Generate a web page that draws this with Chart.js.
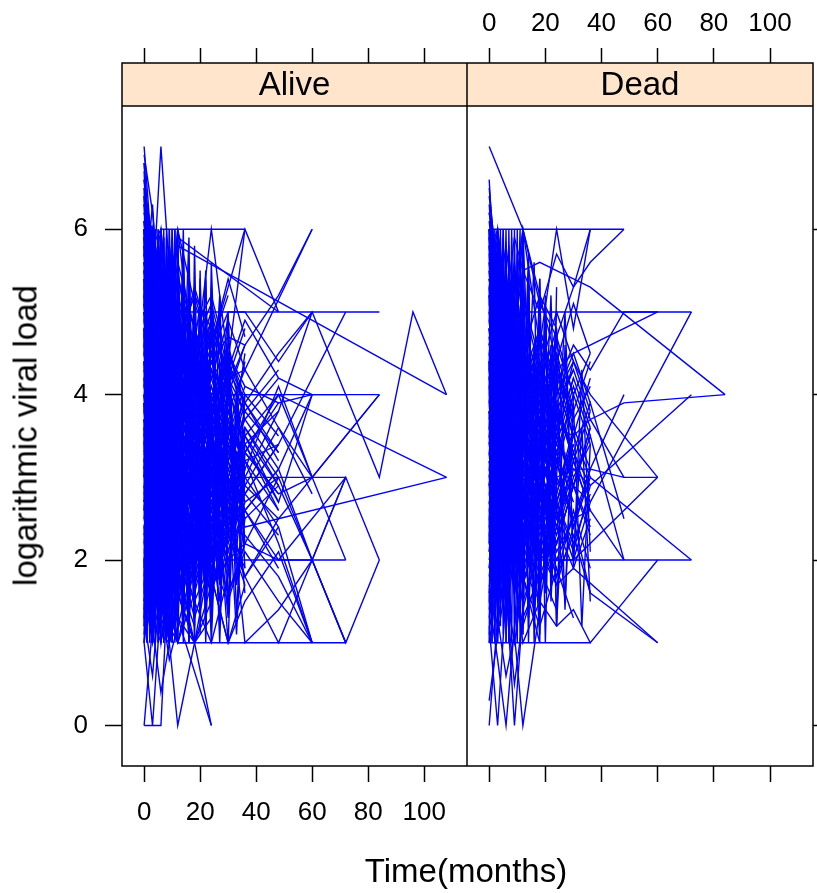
<!DOCTYPE html>
<html>
<head>
<meta charset="utf-8">
<script src="https://cdn.jsdelivr.net/npm/chart.js@4.4.0/dist/chart.umd.min.js"></script>
<style>
  html, body { margin: 0; padding: 0; background: #fff; }
  body { width: 817px; height: 893px; position: relative; overflow: hidden; font-family: "Liberation Sans", Arial, sans-serif; color: #000; }
  canvas { position: absolute; top: 0; }
  #alive { left: 0; }
  #dead { left: 467px; }
  .title { position: absolute; font-size: 33px; line-height: 33px; height: 33px; width: 400px; text-align: center; white-space: nowrap; }
  #xlab { left: 266px; top: 854px; }
  #ylab { left: -175px; top: 419px; transform: rotate(-90deg); }
</style>
</head>
<body>
<canvas id="alive" width="467" height="893"></canvas>
<canvas id="dead" width="350" height="893"></canvas>
<div class="title" id="xlab">Time(months)</div>
<div class="title" id="ylab">logarithmic viral load</div>
<script>
// regular visit schedule (months) - rows in aliveLoads / deadLoads are aligned to it, _ = no measurement
const visitMonths = [0, 3, 6, 9, 12, 18, 24, 30, 36, 48, 60, 72, 84, 96, 108];
// monthly-ish schedule for the frequently measured subjects
const denseMonths = [0, 1, 2, 3, 4, 5, 6, 7, 8, 9, 10, 11, 12, 14, 16, 18, 20, 22, 24, 27, 30, 33, 36];
const _ = null;

const aliveLoads = [
  [7, 5.6, 4.1, 3.2, 2.5],
  [4.8, 5.2, 7, 5.5, 4.3, 3.1],
  [0, 0, 0, 2.1, 1.8, 1.2],
  [5.4, 4.0, 6, 6, 6, 6, 6, 6, 6],
  [5.8, 3.1, 2.4, 1.9, 1, 1, 1, 1, 1, 1, 1],
  [4.6, 3.8, 4.2, 3.5, 5, 5, 5, 5, 5, 5, 5, 5, 5],
  [5.3, 4.9, 4.4, 3.7, 3.1, 2.8, 4, 4, 4, 4, 4, 4, 4],
  [6.1, 5.0, 3.9, 3.3, 2.6, 2.2, 2.9, 3.4, 3, 3, 3, 3],
  [3.9, 2.7, 2.2, 1.6, 2.4, 2, 2, 2, 2, 2, 2, 2],
  [4.4, 3.6, 2.9, 2.5, 3.1, 3.8, 4.2, 4.5, 4.1, 3.9, 4, 4, 3, 5, 4],
  [5.2, 6.3, 4.7, _, 5.8, _, _, _, _, _, _, _, _, _, 4],
  [6.6, 5.1, 4.9, _, 5.9, _, _, _, _, 5.0],
  [3.5, 4.2, 3.8, 4.4, 4.1, 4.6, 4.3, 4.0, 4, 4, _, _, _, _, 3],
  [2.8, 3.3, 2.1, 2.7, 1.9, 2.2, 2.5, 2.3, 2.4, _, _, _, _, _, 3],
  [4.1, 3.5, 2.8, 3.2, 3.9, 4.5, 4.0, 4.2, 4.3, _, 6],
  [5.6, 4.8, 3.4, 2.9, 3.5, 4.1, 4.4, 4.7, 4.6, 5.2, 6],
  [3.2, 2.6, 1.8, 2.3, 2.9, 2.4, 1.7, 2.0, 2.2, 2, 2, 3, 2],
  [4.9, 3.7, 2.5, 3.0, 2.1, 2.6, 3.3, 2.9, 2.7, 3, 2, 1, 2],
  [3.0, 2.2, 1.9, 2.5, 3.1, 2.7, 3.3, 3.6, 3.2, 3.4, _, 5],
  [3.7, 2.9, 3.4, 2.8, 2.3, 3.0, 2.6, 2.1, 2.9, 2.5, _, _, 4],
  [2.5, 1.8, 2.6, 3.1, 2.8, 3.5, 3.0, 2.7, 3.3, 2.8, 3, _, 4],
  [4.2, 3.1, 2.0, 1, 1.6, 2.3, 1.8, 1, 1.5, 2.1, 1],
  [5.5, 4.4, 3.6, 2.8, 2.2, 1.7, 2.5, 3.0, 1, 1.4, 2, 1],
  [3.4, 4.9, 5.2, 4.1, 6, 4.3, 6, 4.4, 6],
  [6, 5.3, 4.5, 5.0, 6, 5.1, 4.6, 5.3, 6, 5],
  [2.4, 1.5, 1.1, 1, 0, 1],
  [1.3, 0.6, 1.8, 2.2, 1.3, _, 0],
  [2.0, 1.4, 1.2, 1.5, 1.9, 1, 0],
  [0, 1.2, 0.4, 1, 2.6, 3.1],
  [1, 0, 1.5, 0.8, 1.2, 2],
  [5.9, 4.2, 3.1, 2.4, 1.8],
  [4.5, 5.1, 3.9, 2.7, 3.3, 2.1],
  [6.3, 5.7, 4.8, 3.6, 2.9, 2.2, 1.6],
  [3.1, 4.4, 5.2, 4.1, 3.0],
  [2.2, 3.5, 4.6, 5.3, 4.4, 3.8, 2.9],
  [5.0, 2.8, 1.9, 1, 1.4],
  [6, 4.7, 2.3, 1.5, 1, 1],
  [4.0, 3.2, 4.8, 3.5, 2.6, 3.4, 2.8, 2.1],
  [1.7, 2.9, 3.6, 2.4, 1.8, 2.5],
  [5.7, 6, 5.1, 4.3, 3.7, 4.6, 3.9],
  [3.6, 2.1, 1, 1.9, 2.7, 3.5, 2.3, 1.6, 2.2],
  [4.7, 5.9, 4.2, 3.1, 4.5, 3.3],
  [2.9, 1.6, 2.8, 3.9, 3.2],
  [6.8, 5.4, 4.0, 2.7],
  [5.1, 3.3, 2.6, 3.8, 4.9, 4.1, 3.5, 2.7, 3.6],
  [3.3, 4.5, 3.0, 2.0, 1.3, 1, 2.1],
  [1.2, 2.4, 1.5, 3.3, 2.5, 1.9],
  [4.3, 3.0, 5.5, 4.6, 3.9, 2.8, 3.4],
  [5.5, 4.1, 2.9, 3.5, 2.0, 1.5, 1, 1.8],
  [2.6, 3.8, 4.9, 3.4, 4.0, 4.8, 5.2, 4.4],
  [6.4, 4.6, 3.2, 2.1, 2.8],
  [3.8, 5.0, 4.3, 5.6, 4.7, 3.6, 2.9, 3.7, 2.8],
  [4.9, 3.4, 1.7, 1, 1.9, 2.6],
  [2.3, 1, 2.2, 1.4, 2.9, 3.6, 4.1],
  [5.3, 6, 5.4, 4.6, 5.5, 4.2],
  [3.0, 4.1, 2.5, 3.7, 2.4, 3.2, 2.0, 2.6],
  [6.1, 3.9, 2.7, 1.8, 1.2],
  [4.4, 2.3, 3.5, 4.7, 3.6, 2.4, 1.9, 2.5, 3.1],
  [1.8, 3.1, 4.2, 2.9, 1.6, 1, 1.3],
  [5.8, 4.9, 3.7, 4.5, 3.3, 4.0, 4.8],
  [3.4, 2.0, 1.4, 2.6, 3.7, 2.9, 3.5, 4.2, 3.8],
  [4.6, 5.8, 6, 4.9, 4.1, 3.4, 2.6],
  [2.7, 3.6, 2.4, 1.7, 2.3, 3.1, 2.7, 3.3],
  [5.2, 4.3, 5.0, 3.8, 2.7, 2.1],
  [6.5, 5.9, 4.4, 3.0, 3.6, 2.5],
  [3.9, 2.8, 3.3, 4.4, 5.1, 4.5, 3.9, 3.2, 4.0, 3.5],
  [2.1, 1.3, 1, 1.6, 2.2],
  [4.8, 3.9, 4.6, 2.9, 3.4, 2.8, 3.6, 2.4],
  [5.6, 5.0, 3.8, 2.6, 1.9, 2.7],
  [3.2, 4.7, 3.5, 4.2, 3.0, 2.3, 3.2, 2.9, 3.4, 2.6],
  [1.5, 2.6, 3.4, 4.0, 3.1, 3.8],
  [6.2, 5.5, 4.9, 5.6, 4.6, 3.9, 4.5],
  [4.1, 3.0, 2.1, 1.4, 1, 1.6, 2.4, 1.8],
  [3.5, 4.8, 5.7, 4.4, 3.5, 2.6, 3.0, 3.8],
  [5.4, 3.6, 2.5, 3.3, 4.1, 3.4, 2.7],
  [2.4, 3.2, 2.0, 2.9, 3.8, 4.3, 3.6, 4.1, 3.3, 3.9],
  [4.3, 5.4, 4.5, 3.3, 2.5, 3.1],
  [6.9, 6.2, 5.0, 3.8, 3.2],
  [3.7, 2.4, 3.9, 2.6, 1.8, 2.4, 1.6, 2.3, 1.7],
  [5.0, 4.2, 3.1, 4.3, 5.0, 4.0, 4.7],
  [2.8, 4.0, 3.7, 3.0, 2.2, 1.5, 2.0],
  [4.5, 3.3, 2.4, 2.0, 2.9, 3.7, 3.1, 3.9, 3.0],
  [5.9, 5.2, 4.3, 3.4, 2.4, 1.7],
  [3.3, 1.9, 2.7, 3.6, 4.6, 3.8, 4.3],
  [4.2, 5.6, 4.4, 3.2, 3.8, 2.9, 2.3, 2.8],
  [1, 1.9, 3.0, 2.3, 3.5, 2.7],
  [5.1, 4.0, 4.8, 5.5, 4.3, 3.5, 4.1, 3.4, 2.9],
  [6, 5.0, 3.5, 4.0, 3.0],
  [3.6, 2.7, 1.6, 2.4, 3.3, 2.5, 1.9, 2.7],
  [4.7, 3.5, 4.3, 3.1, 2.4, 3.3, 4.0, 3.2, 3.7, 4.2],
  [2.5, 3.4, 4.5, 3.7, 2.8, 2.2],
  [5.3, 4.5, 3.3, 2.3, 1.6, 1, 1.5],
  [4.0, 4.9, 3.6, 4.7, 5.4, 4.8, 3.9],
  [3.1, 2.3, 3.1, 1.9, 2.6, 3.2, 2.6, 3.5],
  [6.3, 4.4, 3.0, 2.6, 3.4, 2.8],
  [4.9, 5.3, 4.0, 3.3, 4.2, 3.6, 4.4, 3.8, 3.1],
  [2.0, 2.8, 1.7, 2.5, 1.9, 2.7, 3.4],
  [5.7, 4.6, 5.3, 4.2, 3.5, 4.4, 3.7],
  [3.8, 3.1, 2.2, 3.4, 2.7, 1.8, 2.5, 2.0, 2.6, 1.9],
  [4.4, 3.7, 4.9, 4.0, 4.7, 3.9, 3.2],
  [1.6, 1, 2.0, 2.8, 2.1, 2.9],
  [5.5, 5.9, 4.7, 3.9, 3.0, 3.8, 3.0, 2.4],
  [3.0, 3.9, 3.2, 2.2, 1.5, 2.3, 3.0],
  [4.6, 3.4, 2.6, 3.1, 3.9, 4.6, 3.8, 4.5, 4.0],
  [6.0, 5.1, 4.2, 3.1, 2.3],
  [2.9, 2.1, 3.3, 4.1, 3.3, 2.6, 3.2, 2.7],
  [4.1, 4.8, 3.8, 2.7, 3.5, 4.2, 3.4, 2.8, 3.5],
  [5.0, 3.8, 2.9, 2.1, 2.7, 2.0],
  [3.4, 4.3, 5.1, 4.4, 3.6, 4.3, 4.9, 4.1, 4.6],
  [4.2, 3.5, 2.7, 3.4, 2.6, 3.3, 2.8, 3.6, 3.0, 2.4, 1],
  [3.3, 2.6, 3.8, 2.9, 3.7, 2.8, 3.5, 2.4, 2.9, 3.6, 2.8],
  [5.1, 4.4, 3.6, 4.3, 3.5, 4.1, 3.7, 4.4, 3.9, 4.5, 5],
  [2.7, 3.4, 2.5, 1.8, 2.4, 1.7, 2.3, 1.6, 2.1, 1.5, 1, 1],
  [4.8, 4.1, 3.2, 2.8, 3.6, 2.9, 3.8, 3.1, 3.4, 2.7, 4],
  [3.6, 2.9, 4.0, 3.3, 4.2, 3.5, 2.9, 3.7, 3.1, 4.1, 3],
  [2.2, 1.7, 2.5, 2.1, 1.6, 2.4, 1.9, 2.6, 1.8, 1, 2, 1],
  [5.7, 5.0, 4.2, 3.7, 4.6, 5.2, 4.5, 5.0, 5, 4.4, 5, 4],
  [4.0, 3.2, 2.4, 3.0, 3.9, 3.1, 2.5, 3.2, 2.6, 2, _, 3],
  [3.1, 3.8, 2.9, 3.5, 2.8, 2.2, 3.0, 2.5, 3.3, 4, 3, 2],
  [2.3, 4.1, 5.6, 3.8, 2.9, 3.7, 4.5, 3.6, 2.8, 3.4],
  [5.6, 3.2, 4.5, 5.8, 4.1, 3.3, 2.6, 3.5, 4.4],
  [1, 2.2, 3.7, 5.1, 3.9, 4.6, 3.8, 2.9, 3.6],
  [6, 5.4, 6, 4.8, 3.6, 4.4, 3.5, 4.1],
  [3.5, 1.4, 2.8, 1, 2.5, 1.9, 2.8, 3.5, 2.7],
  [4.7, 6, 4.4, 5.2, 3.8, 2.9, 3.4, 4.3, 3.9, 3.2],
  [2.9, 4.5, 1.8, 3.6, 4.8, 3.5, 2.7, 2.2, 3.1],
  [5.2, 2.7, 3.9, 2.3, 3.4, 4.1, 4.9, 4.2, 4.8],
  [6.7, 4.3, 5.5, 3.4, 2.6, 3.2, 2.5],
  [3.8, 5.6, 3.1, 4.9, 3.7, 2.5, 3.1, 2.6, 3.3],
  [1.4, 3.0, 4.3, 2.6, 3.8, 3.0, 3.7, 4.5],
  [4.4, 2.5, 5.0, 3.1, 1.9, 2.7, 2.1, 2.9, 2.2, 3.0],
  [5.9, 5.5, 3.6, 4.8, 5.4, 4.6, 5.1, 4.3],
  [2.6, 1.2, 3.3, 4.4, 2.8, 2.1, 2.9, 3.7, 2.8],
  [4.1, 6, 5.1, 2.9, 3.6, 4.4, 3.7, 3.0, 3.8, 3.3],
  [3.2, 3.9, 1.3, 2.2, 3.3, 2.4, 1.8, 1, 1.7],
  [5.4, 3.3, 4.1, 5.3, 4.5, 5.3, 4.6, 5.4, 4.7],
  [6.1, 4.8, 2.8, 3.9, 2.9, 3.6, 4.3, 3.4],
  [2.1, 3.7, 4.7, 3.2, 4.3, 3.5, 2.8, 3.4, 2.5, 2.9],
  [4.8, 1.8, 2.4, 3.7, 2.6, 1.9, 2.6, 2.0, 2.7],
  [3.4, 5.2, 4.1, 5.7, 4.8, 3.9, 4.6, 5.2],
  [5.1, 2.9, 1.6, 2.6, 3.9, 3.1, 2.4, 3.2, 3.9, 3.3],
  [1.9, 4.6, 3.2, 1.8, 2.4, 3.2, 3.9, 3.2, 2.5],
  [4.5, 3.8, 5.9, 4.5, 3.1, 3.8, 3.1, 3.9],
  [6.6, 5.7, 3.9, 2.6, 3.3, 2.6, 3.4, 2.8, 3.5, 2.9],
  [3.7, 2.2, 4.0, 4.9, 3.8, 4.4, 5.0, 4.2],
  [2.4, 1.5, 2.3, 3.8, 2.7, 3.4, 2.6, 3.3, 2.9],
  [5.3, 5.6, 4.6, 3.3, 4.4, 3.3, 2.7, 3.3, 2.6, 3.1],
  [4.0, 2.6, 1.9, 2.9, 2.1, 1.3, 2.0, 1.5, 2.2],
  [3.0, 4.8, 5.4, 4.2, 5.2, 4.5, 3.8, 4.4, 3.7],
  [5.8, 4.0, 3.0, 1.7, 2.5, 3.0, 2.4, 3.1],
  [1.1, 2.7, 3.9, 4.6, 3.5, 2.7, 3.5, 2.8, 3.6, 3.0],
  [4.6, 5.5, 2.7, 3.4, 4.6, 3.8, 4.5, 3.6],
  [3.9, 3.0, 4.4, 2.4, 1.7, 2.3, 1.6, 2.4, 1.9],
  [6.2, 6, 5.3, 4.0, 4.9, 4.1, 3.4, 4.0],
  [2.8, 2.0, 3.5, 2.9, 3.9, 3.1, 3.8, 3.0, 3.5, 2.7],
  [5.0, 4.7, 2.0, 1.2, 1, 1.9, 2.8, 2.2],
  [4.3, 3.6, 4.9, 5.8, 4.9, 4.2, 4.8, 4.0, 4.6],
  [3.3, 5.0, 3.8, 2.5, 3.2, 2.5, 3.4, 2.7],
  [1.7, 1.1, 2.9, 2.0, 2.9, 3.7, 3.0, 3.8, 3.2, 2.6],
  [5.5, 3.9, 3.1, 4.2, 3.4, 2.8, 3.5, 2.9],
  [4.9, 5.8, 4.8, 3.6, 2.8, 3.6, 4.2, 3.5, 4.1],
  [2.2, 3.2, 2.1, 3.0, 4.0, 3.3, 2.6, 3.1, 2.5],
  [6.4, 5.1, 4.6, 5.3, 4.2, 3.5, 4.1, 3.4],
  [3.6, 4.4, 2.6, 1.9, 2.6, 2.0, 2.7, 2.1, 2.8, 2.3],
  [4.2, 2.1, 3.4, 4.3, 3.1, 3.9, 3.2, 4.0],
  [5.7, 5.3, 4.2, 4.9, 5.6, 4.8, 4.2, 4.9, 4.3],
  [2.5, 3.9, 4.8, 3.3, 2.4, 1.8, 2.5, 1.9],
  [3.9, 1.7, 2.2, 2.8, 3.5, 2.7, 3.4, 2.6, 3.3, 2.8],
  [5.2, 4.5, 5.7, 3.9, 4.7, 4.0, 3.3, 3.9],
  [1.3, 2.1, 1.4, 2.7, 1.9, 2.6, 3.3, 2.5, 3.0],
  [4.7, 4.0, 3.1, 2.2, 3.0, 3.8, 3.0, 3.7],
  [6.0, 4.6, 5.2, 4.4, 3.5, 4.3, 3.6, 4.2, 3.5, 4.0],
  [3.1, 5.3, 4.5, 3.5, 4.1, 3.3, 2.6, 3.3],
  [4.4, 3.1, 2.3, 3.3, 2.4, 3.1, 2.3, 3.0, 2.4],
  [2.0, 2.5, 3.6, 4.1, 3.2, 2.5, 3.3, 2.6],
  [5.4, 6, 4.3, 2.8, 3.7, 4.5, 3.9, 4.6, 3.8, 4.3],
  [3.5, 2.9, 1.5, 1, 1.8, 2.5, 1.9, 2.6],
  [4.8, 3.7, 5.3, 4.7, 3.9, 3.2, 3.9, 3.3, 4.0],
  [6.8, 5.0, 3.6, 4.3, 3.4, 2.7, 3.4],
  [2.7, 4.2, 3.3, 2.0, 2.9, 3.6, 2.9, 3.5, 2.8, 3.4],
  [4.0, 1.3, 2.5, 3.4, 2.7, 2.0, 2.8, 2.2],
  [5.6, 4.9, 3.7, 3.0, 3.8, 4.6, 3.8, 4.5, 3.9],
  [3.2, 3.6, 4.6, 5.5, 4.4, 3.7, 4.3, 3.5],
  [1.5, 2.4, 3.2, 2.2, 1.5, 2.2, 1.6, 2.4, 1.8, 2.5],
  [4.5, 5.4, 3.5, 4.2, 5.0, 4.3, 3.6, 4.3],
  [3.8, 2.5, 3.0, 1.9, 2.8, 2.1, 2.9, 2.3, 3.0],
  [5.0, 3.5, 4.4, 3.2, 2.5, 3.2, 4.0, 3.3],
  [2.3, 3.3, 1.9, 2.6, 3.5, 4.2, 3.5, 4.1, 3.4, 3.8],
  [6.3, 5.8, 5.0, 4.1, 4.8, 4.0, 4.7, 3.9],
  [4.1, 4.7, 2.9, 3.8, 2.9, 2.3, 3.1, 2.4, 3.2],
  [3.4, 1.9, 3.7, 4.5, 3.6, 4.4, 3.7, 4.4],
  [5.3, 2.4, 1.7, 2.4, 1.6, 1, 1.7, 2.3, 1.8, 2.4],
  [2.6, 4.0, 5.0, 3.6, 4.3, 3.5, 2.9, 3.5],
  [4.6, 3.2, 2.2, 3.1, 4.1, 3.3, 2.6, 3.4, 2.7],
  [5.9, 4.3, 5.5, 4.6, 3.8, 4.5, 3.7, 4.5],
  [3.7, 3.0, 3.5, 2.8, 3.3, 2.7, 3.4, 2.9, 3.2, 2.2, 1],
  [4.5, 3.9, 4.2, 3.6, 4.0, 3.4, 3.9, 3.3, 3.7, 3.1, 2],
  [2.9, 2.3, 3.0, 2.5, 3.1, 2.6, 3.2, 2.8, 3.0, 3.8, 5],
  [5.0, 4.5, 4.8, 4.2, 4.6, 4.0, 4.4, 3.8, 4.3, 3.6, 3],
  [3.2, 2.7, 2.1, 2.8, 2.3, 2.9, 2.4, 3.0, 2.6, 3.1, 4],
  [4.0, 3.4, 2.9, 3.5, 3.0, 3.6, 3.1, 2.7, 3.6, 2.9, 2, 3],
  [2.4, 2.9, 2.2, 2.6, 2.1, 2.5, 2.0, 2.4, 2.3, 1.8, 1],
  [5.5, 5.0, 4.6, 5.1, 4.7, 5.2, 4.8, 4.3, 4.9, 4.2, 4]
];

const aliveFrequent = [
  [1.2, 5.8, 1.5, 6.0, 1.1, 5.4, 2.0, 5.9, 1.3, 4.8, 2.2, 5.6, 1.4, 4.9, 1.8, 5.2, 2.4, 4.6, 1.6],
  [6.0, 1.4, 5.5, 1.0, 5.9, 1.7, 5.2, 1.2, 5.7, 2.1, 6.0, 1.5, 5.3, 1.9, 4.7, 1.3, 4.4, 2.0, 5.1, 2.6, 4.3],
  [3.5, 6.2, 1.0, 4.4, 6.0, 1.6, 3.9, 5.8, 1.1, 4.2, 5.5, 1.8, 4.7, 1.2, 5.4, 2.5, 3.7, 5.0, 1.5, 4.4, 2.3, 3.9, 1.9],
  [1.0, 3.2, 5.7, 2.0, 1.3, 5.1, 6.0, 2.6, 1.0, 5.6, 3.0, 1.4, 5.9, 3.3, 1.7, 4.8, 2.2, 1.6, 5.3, 3.1, 1.4],
  [5.4, 2.3, 1.2, 6.0, 3.6, 1.0, 5.5, 4.1, 1.5, 6.0, 2.7, 4.9, 1.0, 5.7, 3.4, 1.2, 4.5, 2.8, 1.0, 3.6],
  [2.6, 5.9, 3.1, 1.1, 5.6, 2.4, 1.0, 6.0, 2.9, 1.3, 5.1, 6.0, 2.2, 1.1, 5.0, 3.8, 1.3, 4.9, 3.0, 1.7, 4.4, 2.5, 4.0],
  [6.5, 4.0, 1.3, 2.8, 5.8, 1.0, 3.3, 5.9, 1.8, 2.6, 6.0, 1.0, 4.1, 5.5, 1.5, 2.9, 5.2, 1.9, 4.0],
  [1.6, 6.0, 4.5, 1.0, 2.9, 6.0, 4.8, 1.2, 3.7, 5.8, 1.0, 3.0, 5.6, 1.7, 3.5, 5.3, 1.4, 2.7, 4.9, 2.0, 3.2],
  [4.8, 1.0, 2.7, 5.5, 6.0, 1.9, 1.0, 4.6, 5.9, 1.3, 2.0, 5.3, 3.5, 6.0, 1.1, 4.2, 3.3, 1.5, 5.6, 2.4, 1.3, 4.1, 2.9],
  [3.0, 4.7, 6.0, 1.0, 1.8, 4.0, 5.7, 1.0, 2.4, 6.0, 4.4, 1.2, 2.9, 5.1, 1.0, 5.8, 2.1, 4.3, 1.2, 3.8],
  [6.0, 3.3, 1.0, 5.2, 2.2, 6.0, 1.4, 3.6, 5.5, 1.0, 4.9, 2.5, 6.0, 1.6, 4.3, 2.0, 5.5, 1.1, 3.5, 5.2, 1.8, 3.0],
  [2.0, 1.0, 4.9, 6.0, 1.5, 2.8, 5.3, 1.0, 6.0, 3.2, 1.0, 5.7, 2.6, 4.0, 5.9, 1.4, 3.9, 5.4, 2.2, 1.5, 4.7],
  [5.1, 6.0, 1.7, 1.0, 4.3, 5.9, 2.1, 1.6, 5.0, 3.9, 1.0, 6.0, 1.9, 3.1, 1.0, 4.6, 5.1, 2.0, 3.7, 1.0, 4.2, 2.8],
  [1.3, 5.0, 2.4, 5.8, 1.0, 3.8, 6.0, 1.2, 4.5, 1.0, 5.9, 2.3, 4.8, 1.1, 5.6, 3.0, 1.9, 4.5, 1.3, 3.9, 5.0, 2.1, 3.4],
  [_, _, _, _, _, _, _, _, _, _, _, _, 4.5, 1.2, 5.0, 1.6, 4.2, 1.0, 3.9, 1.8, 4.4, 1.3, 3.6],
  [_, _, _, _, _, _, _, _, _, _, _, _, 1.5, 5.3, 1.8, 4.8, 1.1, 4.5, 2.0, 5.1, 1.4, 4.0, 2.2],
  [_, _, _, _, _, _, _, _, _, _, _, _, 5.8, 2.6, 1.0, 4.6, 3.2, 1.3, 5.0, 2.4, 1.0, 3.8, 4.5],
  [_, _, _, _, _, _, _, _, _, _, _, _, 2.3, 4.9, 3.6, 1.0, 5.4, 2.8, 1.5, 4.3, 2.9, 1.1, 3.3],
  [_, _, _, _, _, _, _, _, _, _, _, _, 3.2, 1.0, 5.6, 3.0, 1.4, 4.7, 3.4, 1.2, 4.1, 2.7, 1.6],
  [_, _, _, _, _, _, _, _, _, _, _, _, 1.0, 3.7, 5.2, 1.9, 4.0, 5.5, 1.3, 3.1, 4.9, 1.7, 2.5]
];

const deadLoads = [
  [7, _, _, _, 6, 5.2, 4.8],
  [6, 6, 6, 6, 6, 6, 6, 6, 6, 6],
  [4.4, 3.9, 4.7, 4.1, 5, 5, 5, 5, 5, 5, 5, 5],
  [1, 1, 1, 1, 1, 1, 1, 1, 1],
  [3.1, 2.6, 2.2, 2.8, 2, 2, 2, 2, 2, 2, 2, 2],
  [5.4, 4.7, 5.1, 5.9, 5.5, 5.6, 5.5, 5.4, 5.3, _, _, _, 4],
  [3.6, 3.0, 2.5, 3.2, 3.7, 3.3, 3.6, 3.5, 3.7, 3.9, _, _, 4],
  [2.9, 3.5, 2.8, 2.2, 2.7, 3.1, 2.5, 2.9, 2.7, _, _, 5],
  [4.8, 4.1, 3.6, 4.2, 4.7, 4.0, 4.3, 4.5, _, _, 5],
  [3.8, 3.2, 3.9, 3.4, 2.8, 3.5, 3.0, 3.1, 3.1, 3, 3],
  [2.4, 2.0, 2.9, 2.1, 1.7, 2.4, 2.0, 2.0, _, _, 3],
  [4.5, 3.7, 4.3, 3.6, 4.1, 3.2, 4.0, 4.4, 4.0, _, 3],
  [3.3, 2.5, 1.8, 2.4, 1.9, 1.5, 1.2, 1.4, 1, 1.5, 2],
  [2.6, 3.3, 2.4, 3.0, 2.2, 2.8, 2.1, 2.5, 2.6, 2],
  [4.2, 3.5, 2.9, 3.6, 3.1, 3.8, 3.2, 2.9, 3.5, 2],
  [3.0, 2.3, 1.7, 2.3, 1.8, 2.6, 2.0, 2.5, 1.6, _, 1],
  [2.2, 1.8, 2.7, 1.9, 1.5, 2.1, 1.7, 1.9, _, _, 1],
  [5.2, 4.6, 5.3, 4.8, 5.5, 5.0, 5.7, 5.3, 5.6, 6],
  [4.1, 5.0, 4.3, 5.2, 6, 4.6, 6, 4.8, 6],
  [5.7, 6, 5.2, 4.4, 6, 5.1, 4.7, 5.3, 6],
  [0, 1.3, 0.6, 1.1, 0, 1.4],
  [1.2, 0, 1.6, 0.5, 1.3, 1.8],
  [1.5, 0.8, 0, 1.2, 1.9],
  [0.3, 1.1, 1.7, 0, 1.4, 2.2],
  [3.4, 4.1, 3.3, 2.8, 3.5, 2.9, 3.4, 3.1, 2.9, _, _, 4],
  [2.8, 2.2, 3.1, 2.6, 3.3, 2.7, 3.2, 2.4, 3.0, _, _, 2],
  [4.6, 5.3, 4.4, 5.0, 4.2, 4.8, 4.1, 4.6, 4.3, 5, 5],
  [5.9, 4.7, 3.4, 2.6, 3.2],
  [4.3, 5.5, 4.1, 3.0, 2.2, 2.8],
  [3.1, 2.2, 3.5, 4.4, 3.6, 2.9],
  [6, 5.2, 3.8, 4.5, 3.7, 4.3, 3.4],
  [2.5, 3.7, 2.8, 1.9, 2.6, 1.8, 2.4],
  [4.9, 3.6, 4.8, 5.6, 4.5, 3.9],
  [1.8, 2.7, 1.4, 2.3, 3.2, 2.5, 3.3, 2.7],
  [5.3, 4.2, 2.9, 1.8, 1, 1.5],
  [3.7, 4.6, 5.4, 4.3, 3.4, 4.2, 3.6, 4.4, 3.8],
  [6.2, 5.6, 4.5, 3.6, 4.4],
  [2.9, 1.6, 2.5, 3.4, 2.7, 3.5, 2.8],
  [4.6, 3.9, 3.1, 3.8, 4.6, 3.7, 3.1, 3.9],
  [3.4, 4.5, 3.6, 2.7, 1.9, 2.5, 1.8, 2.3, 1.6],
  [5.0, 5.8, 4.9, 4.1, 5.2, 4.4],
  [2.1, 3.0, 3.9, 3.1, 2.4, 3.0, 3.7],
  [4.1, 2.8, 1.9, 2.7, 3.5, 2.8, 2.2, 2.9, 2.4],
  [5.6, 4.8, 5.5, 4.6, 3.8, 3.2],
  [3.0, 3.8, 2.3, 1.6, 2.2, 1.5, 2.6],
  [4.4, 5.2, 4.0, 4.9, 4.1, 4.7, 4.0, 4.5, 3.9],
  [6.5, 5.3, 4.3, 3.3, 2.6],
  [2.7, 2.0, 2.9, 3.7, 3.0, 2.3, 2.9, 3.4],
  [4.8, 4.0, 3.3, 2.5, 3.1, 3.9, 3.3],
  [3.5, 2.6, 3.8, 4.7, 4.0, 3.4, 4.1, 3.5, 3.0],
  [5.1, 5.9, 5.0, 3.9, 4.8, 3.6],
  [1.4, 2.4, 3.3, 2.6, 1.8, 1],
  [4.0, 3.2, 4.4, 3.5, 2.9, 3.6, 2.7, 3.3, 2.9],
  [5.8, 4.4, 3.7, 4.3, 3.4, 4.0],
  [2.3, 3.3, 2.6, 2.0, 2.8, 2.2, 1.7, 2.4],
  [4.7, 3.5, 2.6, 3.3, 4.0, 4.6, 3.9, 4.3],
  [3.9, 4.9, 4.2, 5.1, 4.3, 3.6, 4.4, 3.7, 4.1],
  [6.1, 5.0, 4.1, 3.2, 2.5, 3.1],
  [2.6, 1.9, 1.3, 2.1, 2.9, 2.2, 2.8],
  [4.2, 4.8, 3.5, 2.8, 3.6, 2.9, 3.5, 3.0, 3.4],
  [5.4, 4.6, 3.9, 4.6, 3.9, 4.5],
  [3.2, 2.4, 3.4, 2.9, 2.3, 3.1, 2.5, 3.2, 2.6],
  [4.5, 5.7, 4.7, 3.8, 3.0, 3.7],
  [1.9, 2.9, 2.1, 3.0, 2.4, 1.7, 2.2],
  [5.2, 3.8, 4.5, 3.7, 4.4, 3.8, 4.6, 4.0, 4.5],
  [3.3, 4.2, 3.1, 3.9, 3.2, 2.6, 3.3],
  [4.9, 4.1, 5.0, 4.2, 3.6, 4.3, 3.7],
  [2.8, 3.6, 2.7, 1.9, 2.6, 3.4, 2.8, 3.6, 3.1],
  [6.3, 4.9, 3.6, 2.8, 3.5],
  [3.6, 2.9, 2.0, 2.8, 3.7, 3.0, 2.4],
  [4.3, 3.4, 4.1, 4.9, 4.2, 3.3, 3.9, 3.2, 3.8],
  [5.5, 4.5, 3.4, 4.1, 3.3, 2.7],
  [2.0, 2.7, 3.6, 2.8, 2.1, 2.8, 2.3],
  [4.6, 5.4, 4.6, 3.7, 4.5, 3.8, 4.4, 3.6],
  [3.8, 3.1, 2.4, 3.2, 2.6, 3.3, 2.7, 2.2, 2.8],
  [5.0, 4.3, 5.2, 4.4, 3.5, 4.2],
  [1, 1.7, 2.6, 1.8, 1.2, 1.9, 1.4],
  [5.5, 4.1, 5.0, 3.7, 4.4, 3.6, 4.3, 3.5],
  [2.2, 3.6, 4.5, 2.9, 3.7, 2.9, 2.2, 2.9],
  [4.8, 2.9, 3.8, 4.7, 3.4, 4.1, 3.3, 4.0, 3.4],
  [6, 4.4, 5.3, 4.2, 3.5, 4.2, 3.6],
  [1.6, 2.8, 1.5, 2.9, 2.2, 2.9, 2.3, 3.0],
  [3.9, 5.1, 3.2, 4.3, 3.5, 2.8, 3.5, 2.9, 3.6],
  [5.0, 3.4, 2.3, 3.2, 2.4, 3.1, 2.5],
  [2.9, 4.3, 5.4, 4.5, 5.1, 4.3, 5.0, 4.4],
  [4.4, 1.9, 2.7, 1.6, 2.3, 1.7, 2.4, 1.9, 2.5],
  [6.4, 5.5, 3.9, 4.8, 3.9, 4.7, 4.0],
  [3.2, 2.5, 4.1, 3.3, 2.6, 3.3, 2.7, 3.4],
  [4.9, 5.7, 4.4, 3.5, 4.2, 3.4, 4.1, 3.5, 4.2],
  [1.3, 2.3, 3.1, 2.4, 3.2, 2.5, 1.9],
  [5.7, 3.9, 4.7, 5.5, 4.6, 3.9, 4.7, 4.0],
  [3.5, 4.4, 2.6, 1.7, 2.5, 3.3, 2.6, 3.3, 2.7],
  [4.2, 3.0, 3.6, 2.7, 3.4, 2.6, 3.2],
  [2.5, 1.4, 2.2, 3.1, 2.3, 3.0, 2.4, 3.1],
  [5.3, 6, 4.6, 5.4, 4.5, 5.2, 4.4, 5.1, 4.5],
  [3.8, 2.7, 1.9, 2.8, 3.6, 2.8, 2.2],
  [4.6, 4.9, 3.8, 3.0, 3.8, 3.1, 3.9, 3.2],
  [6.6, 4.8, 3.3, 2.7, 3.4, 2.8, 3.5, 2.9, 3.6],
  [2.1, 3.4, 2.5, 3.6, 2.8, 3.6, 2.9],
  [4.0, 5.6, 4.8, 3.9, 3.1, 3.9, 3.2, 4.0],
  [3.3, 1.8, 2.9, 2.1, 2.8, 2.0, 2.7, 2.1, 2.9],
  [5.1, 4.2, 3.3, 4.1, 4.9, 4.1, 4.8],
  [2.7, 3.1, 4.2, 3.4, 2.7, 3.4, 2.8, 3.5],
  [4.5, 2.4, 1.6, 1, 1.7, 2.5, 1.8, 2.6, 1.9],
  [5.9, 5.1, 5.8, 4.9, 4.0, 4.8, 4.1],
  [3.0, 4.0, 3.1, 2.3, 3.1, 2.4, 3.2, 2.5],
  [1.7, 1.2, 2.0, 2.9, 2.1, 2.8, 2.2, 2.9, 2.3],
  [4.7, 3.8, 4.6, 3.8, 3.1, 3.7, 3.0],
  [3.6, 5.0, 3.9, 4.7, 3.9, 3.2, 3.9, 3.3],
  [5.2, 3.1, 2.2, 3.0, 2.3, 3.1, 2.4, 3.2, 2.6],
  [2.4, 3.5, 2.8, 2.1, 2.9, 2.1, 2.8],
  [6.2, 5.4, 4.3, 5.0, 4.2, 3.6, 4.3, 3.7],
  [3.9, 2.2, 3.3, 4.1, 3.3, 4.0, 3.4, 4.1, 3.5],
  [4.3, 4.7, 3.6, 2.9, 3.7, 3.0, 3.8],
  [1.1, 2.1, 1.6, 2.4, 1.8, 1.2, 1.9, 1.3],
  [5.6, 4.0, 4.9, 4.1, 3.4, 4.1, 3.5, 4.2, 3.6],
  [2.9, 3.9, 3.0, 3.8, 3.1, 2.5, 3.2],
  [4.1, 3.3, 2.5, 3.4, 2.6, 3.3, 2.7, 3.4],
  [6.0, 5.8, 4.7, 3.8, 4.6, 3.9, 4.5, 3.8, 4.4],
  [3.4, 2.8, 3.7, 2.9, 2.2, 2.9, 2.3],
  [4.8, 3.6, 4.3, 5.2, 4.4, 3.7, 4.4, 3.7],
  [2.3, 1.6, 2.5, 1.9, 2.7, 2.0, 2.6, 2.0, 2.7],
  [5.4, 5.0, 3.7, 4.5, 3.7, 4.4, 3.8],
  [3.1, 4.6, 3.4, 2.6, 3.5, 2.8, 3.6, 2.9],
  [4.4, 2.6, 3.5, 2.6, 3.3, 2.5, 3.2, 2.4, 3.1],
  [1.9, 3.2, 4.0, 3.2, 2.5, 3.3, 2.6],
  [5.8, 4.5, 3.5, 4.4, 3.6, 4.3, 3.5, 4.2],
  [3.5, 3.0, 3.6, 3.1, 3.7, 3.2, 3.8, 3.3, 3.9, 2.5],
  [4.2, 4.6, 4.0, 4.5, 3.9, 4.4, 3.8, 4.3, 3.7, 3],
  [2.7, 2.2, 2.8, 2.3, 2.9, 2.4, 3.0, 2.5, 3.1, 4]
];

const deadFrequent = [
  [6.0, 1.2, 5.6, 1.0, 5.9, 1.5, 5.2, 1.1, 6.0, 1.8, 5.0, 1.3, 5.5, 2.0, 4.6, 1.4, 5.1, 2.3, 4.2],
  [1.0, 5.4, 2.0, 6.0, 1.3, 4.9, 1.0, 5.8, 2.4, 6.0, 1.2, 4.6, 1.6, 5.3, 2.1, 4.4, 1.0, 3.9, 5.0],
  [3.8, 1.0, 6.0, 2.9, 1.4, 5.5, 3.4, 1.0, 5.9, 2.2, 4.8, 6.0, 1.1, 4.1, 5.6, 1.8, 3.6, 5.2, 2.6, 1.5, 4.0],
  [5.3, 2.7, 1.0, 6.0, 4.4, 1.1, 2.5, 6.0, 3.9, 1.0, 5.7, 2.3, 4.7, 1.3, 3.3, 5.4, 1.6, 2.9, 4.8, 3.1],
  [2.2, 6.0, 3.7, 1.2, 5.1, 6.0, 1.0, 3.0, 5.5, 1.6, 1.0, 4.3, 6.0, 2.7, 1.2, 4.9, 3.5, 1.9, 5.3],
  [6.0, 4.2, 1.0, 3.3, 6.0, 1.8, 4.6, 1.0, 2.8, 5.8, 1.4, 3.8, 5.1, 1.0, 4.4, 2.6, 5.0, 1.7, 3.9, 2.2],
  [1.5, 3.6, 5.9, 1.0, 2.4, 6.0, 4.0, 1.3, 5.2, 3.1, 6.0, 1.0, 3.4, 5.5, 2.2, 1.1, 4.7, 3.2],
  [4.4, 1.0, 3.1, 5.7, 1.2, 4.5, 6.0, 2.1, 1.0, 5.0, 3.6, 1.7, 6.0, 4.2, 1.4, 3.7, 2.0, 4.6, 1.2, 3.3],
  [_, _, _, _, _, _, _, _, _, _, _, _, 4.8, 1.3, 4.2, 1.0, 5.1, 1.8, 4.5, 1.4, 3.9, 1.2, 3.4],
  [_, _, _, _, _, _, _, _, _, _, _, _, 1.1, 5.0, 2.2, 5.4, 1.6, 4.0, 1.2, 4.6, 2.0, 3.6, 1.5],
  [_, _, _, _, _, _, _, _, _, _, _, _, 3.6, 5.7, 1.0, 3.4, 5.2, 1.5, 3.0, 5.0, 1.9, 4.3, 2.1]
];

const panelNames = ['Alive', 'Dead'];
const xTicks = [0, 20, 40, 60, 80, 100];
const yTicks = [0, 2, 4, 6];

const X_MIN = -7.9, X_MAX = 115.3;
const Y_MIN = -0.49, Y_MAX = 7.49;
const STRIP = 43;
const FONT = '"Liberation Sans", Arial, sans-serif';
const tickFont = { family: FONT, size: 26 };

function subjectLines(rows, months) {
  return rows.map(row => ({
    data: row.map((v, i) => ({ x: months[i], y: v })),
    borderColor: '#0000ff',
    borderWidth: 1.4,
    pointRadius: 0,
    tension: 0,
    fill: false,
    spanGaps: true
  }));
}

function tickGrid(len) {
  return { display: true, drawOnChartArea: false, drawTicks: true, tickLength: len, tickColor: '#000', tickWidth: 1.5 };
}

function fixTicks(values) {
  return scale => { scale.ticks = values.map(v => ({ value: v })); };
}

// lattice style strip + panel box
function stripPlugin(name) {
  return {
    id: 'strip' + name,
    afterDraw(chart) {
      const { ctx, chartArea: a } = chart;
      const top = a.top - STRIP;
      ctx.save();
      ctx.fillStyle = '#ffe5cc';
      ctx.fillRect(a.left, top, a.right - a.left, STRIP);
      ctx.strokeStyle = '#000';
      ctx.lineWidth = 1.5;
      ctx.strokeRect(a.left, top, a.right - a.left, a.bottom - top);
      ctx.beginPath();
      ctx.moveTo(a.left, a.top);
      ctx.lineTo(a.right, a.top);
      ctx.stroke();
      ctx.fillStyle = '#000';
      ctx.font = '33px ' + FONT;
      ctx.textAlign = 'center';
      ctx.textBaseline = 'middle';
      ctx.fillText(name, (a.left + a.right) / 2, top + STRIP / 2 + 1.5);
      ctx.restore();
    }
  };
}

const baseOptions = {
  responsive: false,
  animation: false,
  events: [],
  layout: { padding: 0 },
  plugins: { legend: { display: false }, tooltip: { enabled: false } }
};

new Chart(document.getElementById('alive'), {
  type: 'line',
  data: { datasets: subjectLines(aliveLoads, visitMonths).concat(subjectLines(aliveFrequent, denseMonths)) },
  options: {
    ...baseOptions,
    scales: {
      x: {
        type: 'linear', position: 'bottom', min: X_MIN, max: X_MAX,
        afterBuildTicks: fixTicks(xTicks),
        afterFit: s => { s.height = 127; },
        grid: tickGrid(16), border: { display: false },
        ticks: { color: '#000', font: tickFont, padding: 15, maxRotation: 0, autoSkip: false }
      },
      x2: {
        type: 'linear', position: 'top', min: X_MIN, max: X_MAX,
        afterBuildTicks: fixTicks(xTicks),
        afterFit: s => { s.height = 106; },
        grid: tickGrid(58), border: { display: false },
        ticks: { display: false }
      },
      y: {
        type: 'linear', position: 'left', min: Y_MIN, max: Y_MAX,
        afterBuildTicks: fixTicks(yTicks),
        afterFit: s => { s.width = 122; },
        grid: tickGrid(17), border: { display: false },
        ticks: { color: '#000', font: tickFont, padding: 17 }
      }
    }
  },
  plugins: [stripPlugin(panelNames[0])]
});

new Chart(document.getElementById('dead'), {
  type: 'line',
  data: { datasets: subjectLines(deadLoads, visitMonths).concat(subjectLines(deadFrequent, denseMonths)) },
  options: {
    ...baseOptions,
    scales: {
      x: {
        type: 'linear', position: 'bottom', min: X_MIN, max: X_MAX,
        afterBuildTicks: fixTicks(xTicks),
        afterFit: s => { s.height = 127; },
        grid: tickGrid(16), border: { display: false },
        ticks: { display: false }
      },
      x2: {
        type: 'linear', position: 'top', min: X_MIN, max: X_MAX,
        afterBuildTicks: fixTicks(xTicks),
        afterFit: s => { s.height = 106; },
        grid: tickGrid(58), border: { display: false },
        ticks: { color: '#000', font: tickFont, padding: 9, maxRotation: 0, autoSkip: false }
      },
      y: { type: 'linear', display: false, min: Y_MIN, max: Y_MAX },
      y2: {
        type: 'linear', position: 'right', min: Y_MIN, max: Y_MAX,
        afterBuildTicks: fixTicks(yTicks),
        afterFit: s => { s.width = 4; },
        grid: tickGrid(15), border: { display: false },
        ticks: { display: false }
      }
    }
  },
  plugins: [stripPlugin(panelNames[1])]
});
</script>
</body>
</html>
